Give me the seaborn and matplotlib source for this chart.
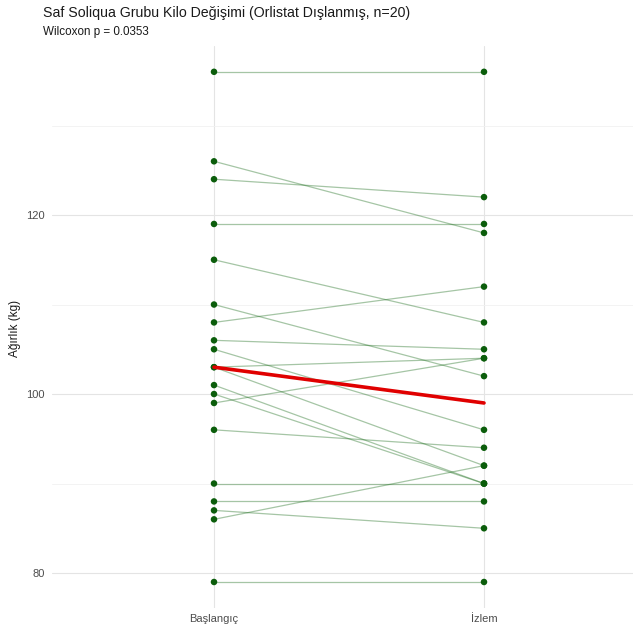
import numpy as np
import pandas as pd
import matplotlib
matplotlib.use("Agg")
import matplotlib.pyplot as plt
import seaborn as sns

# --- data ---
time_labels = ["Başlangıç", "İzlem"]
baseline = [136, 126, 124, 119, 115, 110, 108, 106, 105, 103, 103, 101, 100, 99, 96, 90, 88, 87, 86, 79]
followup = [136, 118, 122, 119, 108, 102, 112, 105, 96, 104, 92, 90, 90, 104, 94, 90, 88, 85, 92, 79]
title = "Saf Soliqua Grubu Kilo Değişimi (Orlistat Dışlanmış, n=20)"
subtitle = "Wilcoxon p = 0.0353"
ylabel = "Ağırlık (kg)"
yticks = [80, 100, 120]

n = len(baseline)
df = pd.DataFrame({
    "id": list(range(n)) * 2,
    "x": [1] * n + [2] * n,
    "weight": baseline + followup,
})

sns.set_theme(style="whitegrid")
plt.rcParams["font.family"] = ["Liberation Sans", "DejaVu Sans"]

fig = plt.figure(figsize=(6.38, 6.31), dpi=100)
ax = fig.add_axes([52 / 638, 1 - 607.5 / 631, (632.5 - 52) / 638, (607.5 - 46.3) / 631])

sns.lineplot(data=df, x="x", y="weight", units="id", estimator=None,
             color="#1f6f1f", alpha=0.4, linewidth=0.9, ax=ax, legend=False)
sns.scatterplot(data=df, x="x", y="weight", color="#0b5d0b", s=22,
                edgecolor="none", ax=ax, zorder=3, legend=False)
sns.lineplot(data=df, x="x", y="weight", estimator="median", errorbar=None,
             color="#e00000", linewidth=2.6, ax=ax, legend=False, zorder=4)

ax.set_xlim(0.4, 2.55)
lo, hi = min(baseline + followup), max(baseline + followup)
pad = (hi - lo) * 0.05
ax.set_ylim(lo - pad, hi + pad)
ax.set_xticks([1, 2])
ax.set_xticklabels(time_labels)
ax.set_yticks(yticks)
ax.set_yticks([90, 110, 130], minor=True)
ax.set_xlabel("")
ax.set_ylabel("")

for s in ax.spines.values():
    s.set_visible(False)
ax.grid(which="major", color="#e4e4e4", linewidth=0.8)
ax.grid(which="minor", axis="y", color="#f1f1f1", linewidth=0.6)
ax.tick_params(axis="both", which="both", length=0, labelsize=8, labelcolor="#4d4d4d", pad=5)
ax.set_facecolor("white")

fig.text(43 / 638, 1 - 6 / 631, title, ha="left", va="top", fontsize=10.2, color="#1a1a1a")
fig.text(43 / 638, 1 - 26 / 631, subtitle, ha="left", va="top", fontsize=8.4, color="#1a1a1a")
fig.text(15 / 638, 1 - 328 / 631, ylabel, rotation=90, ha="center", va="center", fontsize=8.5, color="#1a1a1a")

fig.savefig("out.png", dpi=100, facecolor="white")
